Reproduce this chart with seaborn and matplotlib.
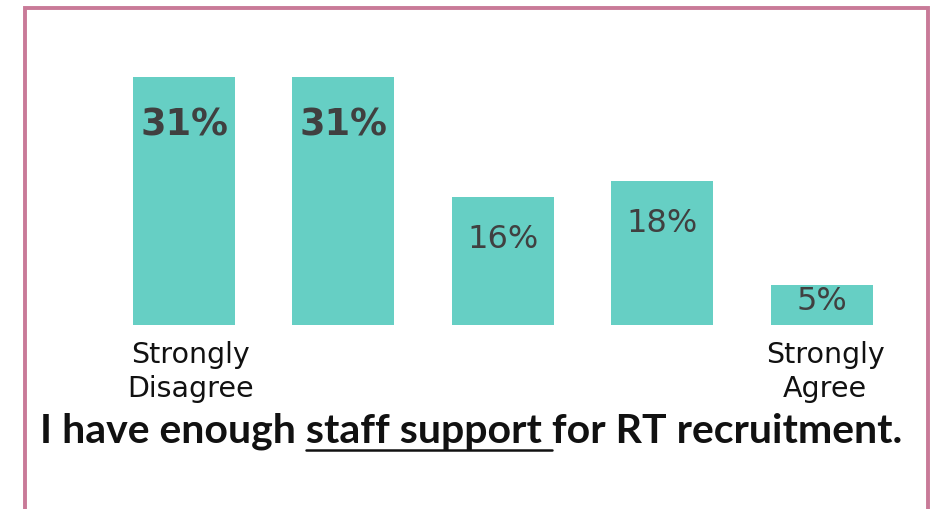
import matplotlib
matplotlib.use("Agg")
import matplotlib.pyplot as plt
from matplotlib.lines import Line2D
import seaborn as sns
import pandas as pd

# Survey response distribution
responses = [1, 2, 3, 4, 5]
shares = [31, 31, 16, 18, 5]
value_labels = ["31%", "31%", "16%", "18%", "5%"]
bold_labels = [True, True, False, False, False]
end_labels = {1: "Strongly\nDisagree", 5: "Strongly\nAgree"}
statement = ["I have enough ", "staff support ", "for RT recruitment."]

BAR = "#66CFC4"
FRAME = "#C97A98"
LABEL = "#404040"

sns.set_theme(style="white")
plt.rcParams["font.family"] = ["DejaVu Sans"]

W, H = 940, 510
fig = plt.figure(figsize=(W / 100, H / 100), dpi=100)
fig.patch.set_facecolor("white")

def px(x, y):
    return x / W, 1 - y / H

ax_l, ax_b = px(104.3, 326)
ax_r, ax_t = px(901.3, 78)
ax = fig.add_axes([ax_l, ax_b, ax_r - ax_l, ax_t - ax_b])

df = pd.DataFrame({"response": responses, "share": shares})
sns.barplot(data=df, x="response", y="share", color=BAR, saturation=1,
            width=0.64, linewidth=0, ax=ax)
ax.set_xlim(-0.5, 4.5)
ax.set_ylim(0, 31)
ax.set_axis_off()

# value labels just inside the top of each bar
for i, (v, lab, b) in enumerate(zip(shares, value_labels, bold_labels)):
    if b:
        ax.annotate(lab, (i, v), xytext=(0, -34), textcoords="offset points",
                    ha="center", va="center", fontsize=26.5, fontweight="bold",
                    color=LABEL)
    else:
        off = -30 if v > 10 else -11
        ax.annotate(lab, (i, v), xytext=(0, off), textcoords="offset points",
                    ha="center", va="center", fontsize=23, color=LABEL)

# end-point labels under the first and last bars
for i, r in enumerate(responses):
    if r in end_labels:
        dx = 5 if i == 0 else 2.5
        ax.annotate(end_labels[r], (i, 0), xytext=(dx, -11),
                    textcoords="offset points", ha="center", va="top",
                    fontsize=20.5, color="#111111", linespacing=1.28)

# statement with the key phrase underlined
title_kw = dict(fontsize=29.5, fontweight="bold", color="#111111",
                family=["Lato", "DejaVu Sans"])
full = "".join(statement)
cx, base = px(471, 443)
t = fig.text(cx, base, full, ha="center", va="baseline", **title_kw)
fig.canvas.draw()
renderer = fig.canvas.get_renderer()

def width_of(s):
    tmp = fig.text(0, 0, s, **title_kw)
    w = tmp.get_window_extent(renderer).width
    tmp.remove()
    return w

left = t.get_window_extent(renderer).x0
u0 = left + width_of(statement[0] + "x") - width_of("x")
u1 = left + width_of(statement[0] + statement[1] + "x") - width_of("x")
uy = 1 - 450.5 / H
fig.add_artist(Line2D([u0 / W, u1 / W], [uy, uy], transform=fig.transFigure,
                      color="#111111", lw=1.8))

# frame around the panel (open at the bottom edge)
fl, ft = px(24.5, 9)
fr, fb = px(928, 520)
fig.add_artist(Line2D([fl, fl, fr, fr], [fb, ft, ft, fb],
                      transform=fig.transFigure, color=FRAME, lw=2.8,
                      solid_joinstyle="miter"))

fig.savefig("out.png", dpi=100, facecolor="white")
